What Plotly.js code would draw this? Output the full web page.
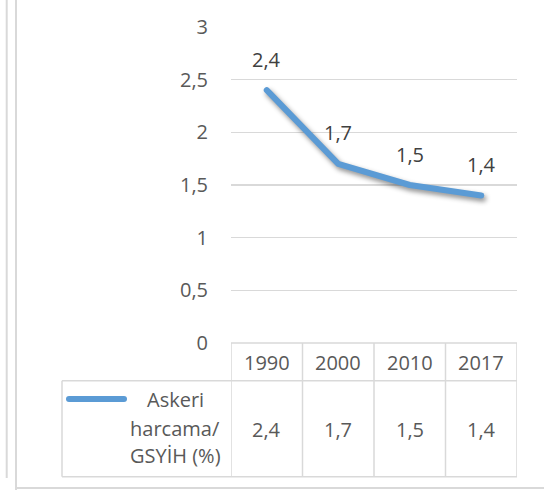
<!DOCTYPE html>
<html>
<head>
<meta charset="utf-8">
<script src="https://cdn.plot.ly/plotly-3.0.1.min.js"></script>
<style>
html,body{margin:0;padding:0;background:#fff;}
#chart{width:544px;height:490px;}
</style>
</head>
<body>
<div id="chart"></div>
<script>
// ---- data ----
var years = ['1990', '2000', '2010', '2017'];
var values = [2.4, 1.7, 1.5, 1.4];
var seriesNameLines = ['Askeri', 'harcama/', 'GSYİH (%)'];
var yTicks = [0, 0.5, 1, 1.5, 2, 2.5, 3];

// ---- styles ----
var LINE_COLOR = '#5B9BD5';
var GRID = '#D9D9D9';
var TXT = '#595959';
var LBL = '#404040';
var FONT = 'Open Sans, Liberation Sans, sans-serif';
var FS = 20;

function fmt(v){ return String(v).replace('.', ','); }

// pixel -> paper helpers (plot area: left 231, width 286, bottom 343, height 316)
var L = 231, W = 286, B = 343, H = 316;
function px(x){ return (x - L) / W; }
function py(y){ return (B - y) / H; }

var trace = {
  x: years,
  y: values,
  type: 'scatter',
  mode: 'lines',
  line: {color: LINE_COLOR, width: 6},
  hoverinfo: 'skip',
  showlegend: false
};

var shapes = [];
var bc = {color: GRID, width: 1.5};
// table: vertical column lines (category boundaries)
for (var i = 0; i <= years.length; i++) {
  shapes.push({type:'line', xref:'x', yref:'paper', x0:i-0.5, x1:i-0.5, y0:0, y1:py(476.7), line:bc});
}
// header top line (axis line)
shapes.push({type:'line', xref:'paper', yref:'paper', x0:0, x1:1, y0:0, y1:0, line:bc});
// row separator & bottom
shapes.push({type:'line', xref:'paper', yref:'paper', x0:px(62), x1:1, y0:py(380.7), y1:py(380.7), line:bc});
shapes.push({type:'line', xref:'paper', yref:'paper', x0:px(62), x1:1, y0:py(476.7), y1:py(476.7), line:bc});
// legend cell left edge
shapes.push({type:'line', xref:'paper', yref:'paper', x0:px(62), x1:px(62), y0:py(380.7), y1:py(476.7), line:bc});
// legend key line
shapes.push({type:'line', xref:'paper', yref:'paper', x0:px(69), x1:px(124), y0:py(399), y1:py(399), line:{color:LINE_COLOR, width:6}});
// chart outer borders
shapes.push({type:'line', xref:'paper', yref:'paper', x0:px(16), x1:px(16), y0:py(0), y1:py(490), line:{color:'#D9D9D9', width:2}});
shapes.push({type:'line', xref:'paper', yref:'paper', x0:px(16), x1:px(544), y0:py(488), y1:py(488), line:{color:'#D9D9D9', width:2}});
shapes.push({type:'line', xref:'paper', yref:'paper', x0:px(6.7), x1:px(6.7), y0:py(0), y1:py(478), line:{color:'#D9D9D9', width:2}});

var annotations = [];
years.forEach(function(yr, i){
  // data labels
  annotations.push({x: i, y: values[i], xref:'x', yref:'y', text: fmt(values[i]), showarrow:false,
    xanchor:'center', yanchor:'middle', yshift: 31, font:{family:FONT, size:FS, color:LBL}});
  // header row
  annotations.push({x: i, y: py(362), xref:'x', yref:'paper', text: yr, showarrow:false,
    xanchor:'center', yanchor:'middle', font:{family:FONT, size:FS, color:TXT}});
  // data row
  annotations.push({x: i, y: py(429), xref:'x', yref:'paper', text: fmt(values[i]), showarrow:false,
    xanchor:'center', yanchor:'middle', font:{family:FONT, size:FS, color:TXT}});
});
var nameY = [399, 428, 455];
seriesNameLines.forEach(function(t, i){
  annotations.push({x: px(175), y: py(nameY[i]), xref:'paper', yref:'paper', text: t, showarrow:false,
    xanchor:'center', yanchor:'middle', font:{family:FONT, size:FS, color:TXT}});
});

var layout = {
  width: 544, height: 490,
  margin: {l: L, r: 544 - L - W, t: B - H, b: 490 - B, pad: 0},
  paper_bgcolor: '#fff', plot_bgcolor: '#fff',
  separators: ', ',
  showlegend: false,
  font: {family: FONT, size: FS, color: TXT},
  xaxis: {type:'category', range:[-0.5, 3.5], showgrid:false, showticklabels:false, ticks:'',
    zeroline:false, showline:false, fixedrange:true},
  yaxis: {range:[0, 3], tickvals: yTicks, ticktext: yTicks.map(fmt), showgrid:true, gridcolor:GRID,
    gridwidth:1.5, zeroline:false, showline:false, ticks:'', ticklabelstandoff: 22,
    tickfont:{family:FONT, size:FS, color:TXT}, fixedrange:true},
  shapes: shapes,
  annotations: annotations
};

Plotly.newPlot('chart', [trace], layout, {displayModeBar:false, staticPlot:true}).then(function(){
  document.querySelectorAll('.scatterlayer .js-line').forEach(function(p){
    p.style.strokeLinecap = 'round';
    p.style.strokeLinejoin = 'round';
    p.style.filter = 'drop-shadow(2px 3px 2.5px rgba(0,0,0,0.45))';
  });
  document.querySelectorAll('.shapelayer path').forEach(function(p){
    if ((p.style.stroke || '').indexOf('91, 155, 213') >= 0 || p.getAttribute('stroke') === LINE_COLOR) {
      p.style.strokeLinecap = 'round';
    }
  });
});
</script>
</body>
</html>
